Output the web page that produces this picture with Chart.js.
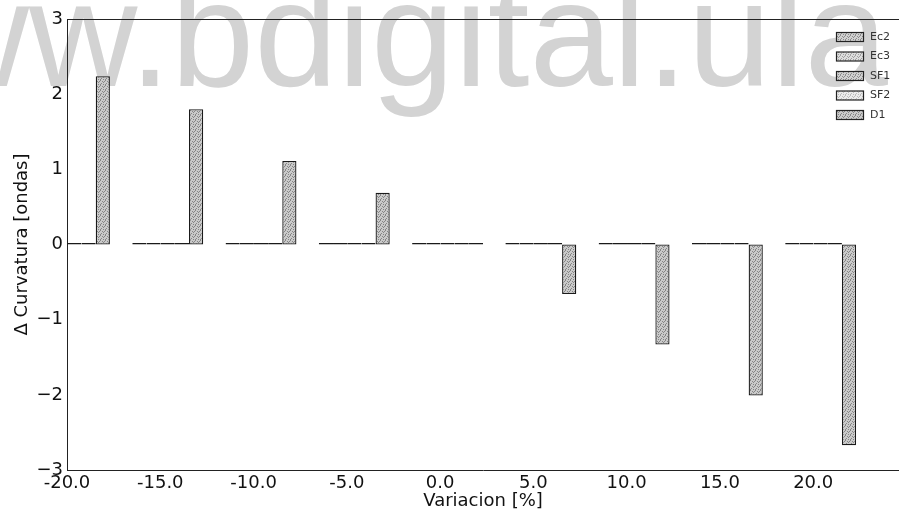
<!DOCTYPE html>
<html>
<head>
<meta charset="utf-8">
<script src="https://cdn.jsdelivr.net/npm/chart.js@4"></script>
<style>
  html, body { margin: 0; padding: 0; background: #fff; }
  #wrap { width: 899px; height: 518px; }
</style>
</head>
<body>
<div id="wrap"><canvas id="curvChart" width="899" height="518"></canvas></div>
<script>
// Werte
const variacion = [-20, -15, -10, -5, 0, 5, 10, 15, 20];
const ec2 = [0.02, 0.02, 0.02, 0.02, 0.02, 0.02, 0.02, 0.02, 0.02];
const ec3 = [0.02, 0.02, 0.02, 0.02, 0.02, 0.02, 0.02, 0.02, 0.02];
const sf1 = [0.02, 0.02, 0.02, 0.02, 0.02, 0.02, 0.02, 0.02, 0.02];
const sf2 = [0.02, 0.02, 0.02, 0.02, 0.02, 0.02, 0.02, 0.02, 0.02];
const d1 = [2.24, 1.80, 1.11, 0.69, 0.02, -0.66, -1.33, -2.01, -2.67];
const seriesNames = ['Ec2', 'Ec3', 'SF1', 'SF2', 'D1'];
const yTicks = [-3, -2, -1, 0, 1, 2, 3];

// gepunktete Füllung wie im Scan
function stipple(base, dot) {
    const c = document.createElement('canvas');
    c.width = 5; c.height = 5;
    const g = c.getContext('2d');
    g.fillStyle = base;
    g.fillRect(0, 0, 5, 5);
    g.fillStyle = dot;
    [[0, 0], [2, 1], [4, 1], [1, 3], [3, 2], [0, 4], [3, 4]].forEach(p => g.fillRect(p[0], p[1], 1, 1));
    return g.createPattern(c, 'repeat');
}

const fills = [
    stipple('#d0d0d0', '#8c8c8c'),
    stipple('#dcdcdc', '#a0a0a0'),
    stipple('#d0d0d0', '#8c8c8c'),
    stipple('#ececec', '#bcbcbc'),
    stipple('#cacaca', '#868686')
];

const groupShift = 0.4; // Gruppe beginnt links vom Tick
const allSeries = [ec2, ec3, sf1, sf2, d1];

const datasets = allSeries.map((vals, i) => ({
    label: seriesNames[i],
    data: vals.map((v, k) => ({ x: variacion[k] + groupShift, y: v })),
    backgroundColor: fills[i],
    borderColor: '#1a1a1a',
    borderWidth: 1.3,
    borderSkipped: false,
    categoryPercentage: 0.76,
    barPercentage: 1.0
}));

// Wasserzeichen hinter dem Diagramm
const watermark = {
    id: 'watermark',
    beforeDraw(chart) {
        const ctx = chart.ctx;
        ctx.save();
        ctx.fillStyle = '#d3d3d3';
        ctx.font = '150px "Liberation Sans", Arial, sans-serif';
        ctx.textAlign = 'right';
        ctx.textBaseline = 'alphabetic';
        ctx.fillText('www.bdigital.ula', 888, 86);
        ctx.restore();
    }
};

// obere Rahmenlinie + Legende im Plotbereich
const frameAndLegend = {
    id: 'frameAndLegend',
    afterDraw(chart) {
        const ctx = chart.ctx;
        const a = chart.chartArea;
        ctx.save();
        ctx.strokeStyle = '#222';
        ctx.lineWidth = 1;
        ctx.beginPath();
        ctx.moveTo(a.left, a.top + 0.5);
        ctx.lineTo(a.right, a.top + 0.5);
        ctx.stroke();

        ctx.font = '11px "DejaVu Sans", sans-serif';
        ctx.textBaseline = 'middle';
        ctx.textAlign = 'left';
        chart.data.datasets.forEach((ds, i) => {
            const y = 37 + i * 19.5;
            ctx.fillStyle = ds.backgroundColor;
            ctx.fillRect(836, y - 4.5, 27, 9);
            ctx.strokeStyle = '#222';
            ctx.lineWidth = 1.2;
            ctx.strokeRect(836.5, y - 4.5, 27, 9);
            ctx.fillStyle = '#333';
            ctx.fillText(ds.label, 870, y);
        });
        ctx.restore();
    }
};

const tickFont = { family: '"DejaVu Sans", sans-serif', size: 18 };

new Chart(document.getElementById('curvChart'), {
    type: 'bar',
    data: { datasets: datasets },
    options: {
        responsive: false,
        animation: false,
        layout: { padding: { top: 19, right: 0, left: 0, bottom: 0 } },
        plugins: {
            legend: { display: false },
            tooltip: { enabled: false }
        },
        scales: {
            x: {
                type: 'linear',
                min: -20,
                max: 24.6,
                offset: false,
                grid: { display: false, drawTicks: false, offset: false },
                border: { display: true, color: '#222', width: 1 },
                ticks: {
                    stepSize: 5,
                    includeBounds: false,
                    autoSkip: false,
                    maxRotation: 0,
                    padding: 3,
                    color: '#111',
                    font: tickFont,
                    callback: v => variacion.includes(v) ? v.toFixed(1) : ''
                },
                title: {
                    display: true,
                    text: 'Variacion [%]',
                    color: '#111',
                    font: tickFont,
                    padding: { top: 0, bottom: 6 }
                },
                afterFit: s => { s.height = 48; }
            },
            y: {
                min: -3,
                max: 3,
                grid: { display: false, drawTicks: false },
                border: { display: true, color: '#222', width: 1 },
                afterBuildTicks: s => { s.ticks = yTicks.map(v => ({ value: v })); },
                ticks: {
                    padding: 4,
                    color: '#111',
                    font: tickFont,
                    callback: v => String(v).replace('-', '\u2212')
                },
                title: {
                    display: true,
                    text: '\u0394 Curvatura [ondas]',
                    color: '#111',
                    font: tickFont,
                    padding: { top: 12, bottom: 0 }
                },
                afterFit: s => { s.width = 67; }
            }
        }
    },
    plugins: [watermark, frameAndLegend]
});
</script>
</body>
</html>
